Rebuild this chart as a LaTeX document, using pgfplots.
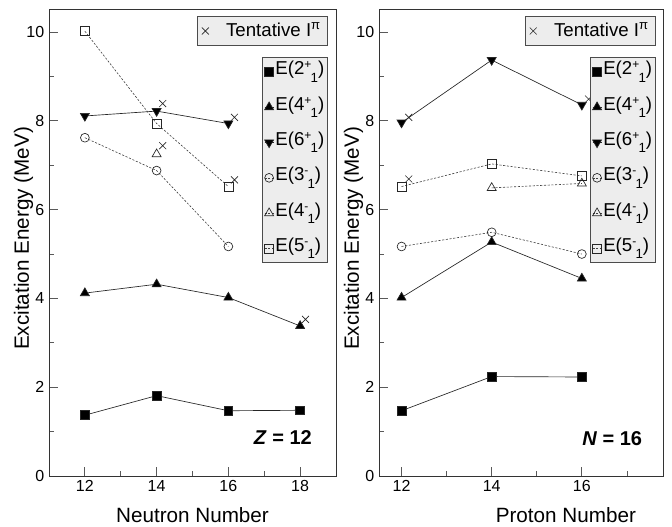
\documentclass[border=0pt]{standalone}
\usepackage{fontspec}
\setmainfont{Liberation Sans}
\usepackage{pgfplots}
\pgfplotsset{compat=1.18}
\newcommand\st[2]{\raisebox{4.6pt}{\fontsize{9}{9}\selectfont #1}\kern-0.6pt\raisebox{-5.5pt}{\fontsize{10}{10}\selectfont #2}}
\pgfplotsset{
  myaxis/.style={
    scale only axis, height=350.25pt, ymin=0, ymax=10.52,
    ytick={0,2,...,10}, minor ytick={1,3,5,7,9},
    tick align=inside, xtick pos=bottom, ytick pos=left,
    major tick length=7pt, minor tick length=3.5pt,
    axis line style={draw=black!80, line width=0.6pt},
    every tick/.style={black!65, line width=0.6pt},
    ticklabel style={font=\fontsize{12}{14}\selectfont},
    /pgf/number format/assume math mode=true,
    legend image code/.code={\draw[mark repeat=2,mark phase=2,#1] plot coordinates {(0cm,0cm)(0.12cm,0cm)(0.24cm,0cm)};},
  },
  mainleg/.style={legend style={fill=black!7, draw=black!70, line width=0.6pt,
      font=\fontsize{14}{16}\selectfont, inner sep=1.5pt, row sep=8pt,
      nodes={inner sep=1pt, text height=10.5pt, text depth=6pt},
      cells={anchor=west},
      /tikz/every odd column/.append style={column sep=0pt}}},
  tentleg/.style={
    legend image code/.code={\draw[##1] plot coordinates {(0.1cm,0cm)};},
    legend style={fill=black!7, draw=black!70, line width=0.6pt,
    font=\fontsize{14}{16}\selectfont, inner sep=3pt,
    nodes={inner sep=2pt},
    /tikz/every odd column/.append style={column sep=11pt}}},
  sol/.style={black!85, line width=0.5pt},
  dsh/.style={black!75, line width=0.45pt, dash pattern=on 1.6pt off 1.2pt},
  sq/.style={mark=square*, mark size=3.3pt, mark options={solid, fill=black}},
  tri/.style={mark=triangle*, mark size=3.9pt, mark options={solid, fill=black}},
  itri/.style={mark=triangle*, mark size=3.9pt, mark options={solid, fill=black, rotate=180}},
  oc/.style={mark=o, mark size=3.3pt, mark options={solid, black!85, line width=0.5pt}},
  otri/.style={mark=triangle, mark size=3.9pt, mark options={solid, black!85, line width=0.5pt}},
  osq/.style={mark=square, mark size=3.4pt, mark options={solid, black!85, line width=0.5pt}},
  crs/.style={only marks, mark=x, mark size=3.7pt, mark options={black!85, line width=0.5pt}},
}
\begin{document}
\begin{tikzpicture}
\useasboundingbox (0,0) rectangle (504pt,395.25pt);
% ---------------- left panel: Z = 12
\begin{axis}[myaxis, mainleg, at={(36.75pt,38.25pt)}, anchor=south west,
  width=215.25pt, xmin=11, xmax=19,
  xtick={12,14,16,18}, minor xtick={13,15,17},
  xlabel={Neutron Number}, ylabel={Excitation Energy (MeV)},
  every axis x label/.style={at={(axis description cs:0.5,-0.0835)}, anchor=center, font=\fontsize{15.5}{18}\selectfont},
  every axis y label/.style={at={(axis description cs:-0.0889,0.5086)}, rotate=90, anchor=center, font=\fontsize{15.5}{18}\selectfont},
  legend style={at={(0.972,0.897)}, anchor=north east}]
\addlegendimage{sol, sq}\addlegendentry{E(2\st{+}{1})}
\addlegendimage{sol, tri}\addlegendentry{E(4\st{+}{1})}
\addlegendimage{sol, itri}\addlegendentry{E(6\st{+}{1})}
\addlegendimage{dsh, oc}\addlegendentry{E(3\st{-}{1})}
\addlegendimage{dsh, otri}\addlegendentry{E(4\st{-}{1})}
\addlegendimage{dsh, osq}\addlegendentry{E(5\st{-}{1})}
\addplot[sol, sq, forget plot] coordinates {(12,1.37)(14,1.81)(16,1.47)(18,1.48)};
\addplot[sol, tri, forget plot] coordinates {(12,4.12)(14,4.32)(16,4.02)(18,3.38)};
\addplot[sol, itri, forget plot] coordinates {(12,8.11)(14,8.22)(16,7.94)};
\addplot[dsh, oc, forget plot] coordinates {(12,7.62)(14,6.88)(16,5.17)};
\addplot[dsh, otri, forget plot] coordinates {(14,7.25)};
\addplot[dsh, osq, forget plot] coordinates {(12,10.02)(14,7.94)(16,6.52)};
\addplot[crs, forget plot] coordinates {(14.17,8.39)(16.17,8.08)(14.17,7.44)(16.17,6.67)(18.15,3.53)};
\node[anchor=east, font=\fontsize{15}{17}\selectfont\bfseries] at (rel axis cs:0.932,0.082) {\textit{Z} = 12};
\end{axis}
\begin{axis}[myaxis, tentleg, hide axis, at={(36.75pt,38.25pt)}, anchor=south west,
  width=215.25pt, xmin=11, xmax=19,
  legend style={at={(0.972,0.985)}, anchor=north east}]
\addlegendimage{crs}\addlegendentry{Tentative I\textsuperscript{π}}
\end{axis}
% ---------------- right panel: N = 16
\begin{axis}[myaxis, mainleg, at={(284.25pt,38.25pt)}, anchor=south west,
  width=213pt, xmin=11.5, xmax=17.8,
  xtick={12,14,16}, minor xtick={13,15,17},
  xlabel={Proton Number}, ylabel={Excitation Energy (MeV)},
  every axis x label/.style={at={(axis description cs:0.658,-0.0835)}, anchor=center, font=\fontsize{15.5}{18}\selectfont},
  every axis y label/.style={at={(axis description cs:-0.0898,0.5086)}, rotate=90, anchor=center, font=\fontsize{15.5}{18}\selectfont},
  legend style={at={(0.975,0.897)}, anchor=north east}]
\addlegendimage{sol, sq}\addlegendentry{E(2\st{+}{1})}
\addlegendimage{sol, tri}\addlegendentry{E(4\st{+}{1})}
\addlegendimage{sol, itri}\addlegendentry{E(6\st{+}{1})}
\addlegendimage{dsh, oc}\addlegendentry{E(3\st{-}{1})}
\addlegendimage{dsh, otri}\addlegendentry{E(4\st{-}{1})}
\addlegendimage{dsh, osq}\addlegendentry{E(5\st{-}{1})}
\addplot[sol, sq, forget plot] coordinates {(12,1.47)(14,2.24)(16,2.23)};
\addplot[sol, tri, forget plot] coordinates {(12,4.02)(14,5.27)(16,4.45)};
\addplot[sol, itri, forget plot] coordinates {(12,7.96)(14,9.37)(16,8.36)};
\addplot[dsh, oc, forget plot] coordinates {(12,5.17)(14,5.49)(16,5.00)};
\addplot[dsh, otri, forget plot] coordinates {(14,6.49)(16,6.59)};
\addplot[dsh, osq, forget plot] coordinates {(12,6.52)(14,7.03)(16,6.76)};
\addplot[crs, forget plot] coordinates {(12.16,8.08)(12.16,6.69)(16.15,8.49)};
\node[anchor=east, font=\fontsize{15}{17}\selectfont\bfseries] at (rel axis cs:0.943,0.080) {\textit{N} = 16};
\end{axis}
\begin{axis}[myaxis, tentleg, hide axis, at={(284.25pt,38.25pt)}, anchor=south west,
  width=213pt, xmin=11.5, xmax=17.8,
  legend style={at={(0.975,0.985)}, anchor=north east}]
\addlegendimage{crs}\addlegendentry{Tentative I\textsuperscript{π}}
\end{axis}
\end{tikzpicture}
\end{document}
